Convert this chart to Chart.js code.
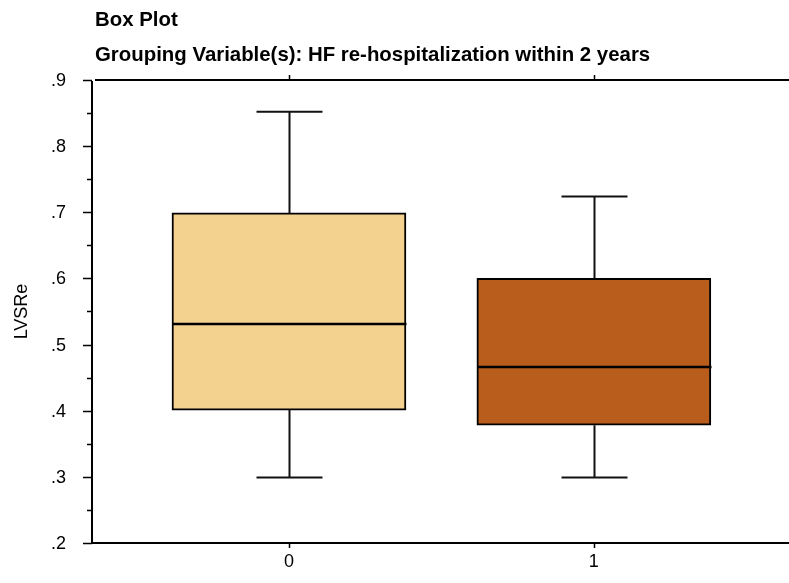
<!DOCTYPE html>
<html>
<head>
<meta charset="utf-8">
<script src="https://cdn.jsdelivr.net/npm/chart.js@4/dist/chart.umd.min.js"></script>
<style>
  html, body { margin: 0; padding: 0; background: #ffffff; }
  #wrap { width: 789px; height: 583px; position: relative; }
</style>
</head>
<body>
<div id="wrap"><canvas id="c" width="789" height="583"></canvas></div>
<script>
// ---- data ----
const categories = ['0', '1'];
const categoryPositions = [0, 1];
const whiskerLow = [0.299, 0.299];
const q1 = [0.401, 0.378];
const medians = [0.531, 0.466];
const q3 = [0.699, 0.600];
const whiskerHigh = [0.852, 0.724];
const boxColors = ['#F3D18E', '#B85D1B'];
const yMajorTicks = [0.2, 0.3, 0.4, 0.5, 0.6, 0.7, 0.8, 0.9];
const yMinorTicks = [0.25, 0.35, 0.45, 0.55, 0.65, 0.75, 0.85];
const titleText = 'Box Plot';
const subtitleText = 'Grouping Variable(s): HF re-hospitalization within 2 years';
const yAxisTitle = 'LVSRe';

const FONT = '"Liberation Sans", Arial, sans-serif';
const BOX_W = 234;
const CAP_W = 66;

const boxData = categoryPositions.map((x, i) => ({ x: x, y: [q1[i], q3[i]] }));

const boxPlotPlugin = {
  id: 'boxPlotExtras',
  afterDatasetsDraw(chart) {
    const ctx = chart.ctx;
    const xs = chart.scales.x, ys = chart.scales.y;
    const area = chart.chartArea;
    ctx.save();
    // whiskers and medians
    categoryPositions.forEach((c, i) => {
      const px = Math.round(xs.getPixelForValue(c)) + 0.5;
      const yLow = ys.getPixelForValue(whiskerLow[i]);
      const yQ1 = ys.getPixelForValue(q1[i]);
      const yQ3 = ys.getPixelForValue(q3[i]);
      const yHigh = ys.getPixelForValue(whiskerHigh[i]);
      const yMed = ys.getPixelForValue(medians[i]);
      ctx.strokeStyle = '#111';
      ctx.lineWidth = 2;
      ctx.beginPath();
      ctx.moveTo(px, yQ3); ctx.lineTo(px, yHigh);
      ctx.moveTo(px - CAP_W / 2, yHigh); ctx.lineTo(px + CAP_W / 2, yHigh);
      ctx.moveTo(px, yQ1); ctx.lineTo(px, yLow);
      ctx.moveTo(px - CAP_W / 2, yLow); ctx.lineTo(px + CAP_W / 2, yLow);
      ctx.stroke();
      ctx.strokeStyle = '#000';
      ctx.lineWidth = 2.5;
      ctx.beginPath();
      ctx.moveTo(px - BOX_W / 2, yMed); ctx.lineTo(px + BOX_W / 2, yMed);
      ctx.stroke();
    });
    // axes frame
    ctx.strokeStyle = '#000';
    ctx.lineWidth = 2;
    ctx.beginPath();
    ctx.moveTo(area.left, ys.getPixelForValue(0.9) + 1);
    ctx.lineTo(area.left, area.bottom + 1);
    ctx.moveTo(area.left, area.bottom);
    ctx.lineTo(chart.width, area.bottom);
    ctx.moveTo(area.left + 3, area.top);
    ctx.lineTo(chart.width, area.top);
    ctx.stroke();
    // y ticks
    ctx.lineWidth = 1.5;
    ctx.beginPath();
    yMajorTicks.forEach(v => {
      const py = Math.round(ys.getPixelForValue(v)) + 0.5;
      ctx.moveTo(area.left - 9, py); ctx.lineTo(area.left, py);
    });
    yMinorTicks.forEach(v => {
      const py = Math.round(ys.getPixelForValue(v)) + 0.5;
      ctx.moveTo(area.left - 5, py); ctx.lineTo(area.left, py);
    });
    categoryPositions.forEach(c => {
      const px = Math.round(xs.getPixelForValue(c)) + 0.5;
      ctx.moveTo(px, area.bottom); ctx.lineTo(px, area.bottom + 5);
      ctx.moveTo(px, area.top); ctx.lineTo(px, area.top - 5);
    });
    ctx.stroke();
    // titles
    ctx.fillStyle = '#000';
    ctx.textAlign = 'left';
    ctx.textBaseline = 'middle';
    ctx.font = 'bold 20.4px ' + FONT;
    ctx.fillText(titleText, area.left + 3, 20);
    ctx.fillText(subtitleText, area.left + 3, 55);
    ctx.restore();
  }
};

new Chart(document.getElementById('c'), {
  type: 'bar',
  data: {
    datasets: [{
      data: boxData,
      backgroundColor: boxColors,
      borderColor: '#000',
      borderWidth: 2,
      borderSkipped: false,
      barThickness: BOX_W
    }]
  },
  options: {
    responsive: false,
    animation: false,
    devicePixelRatio: 1,
    layout: { padding: { top: 80, right: 0, left: 0, bottom: 0 } },
    plugins: { legend: { display: false }, tooltip: { enabled: false }, title: { display: false } },
    scales: {
      x: {
        type: 'linear',
        min: -0.646,
        max: 1.64,
        offset: false,
        grid: { display: false, drawTicks: false },
        border: { display: false },
        afterBuildTicks: (s) => { s.ticks = categoryPositions.map(v => ({ value: v })); },
        afterFit: (s) => { s.height = 40; },
        ticks: {
          padding: 8,
          color: '#000',
          font: { family: FONT, size: 18 },
          callback: (v) => { const i = categoryPositions.indexOf(v); return i >= 0 ? categories[i] : ''; }
        }
      },
      y: {
        min: 0.2,
        max: 0.9,
        grid: { display: false, drawTicks: false },
        border: { display: false },
        afterBuildTicks: (s) => { s.ticks = yMajorTicks.map(v => ({ value: v })); },
        afterFit: (s) => { s.width = 92; },
        title: {
          display: true,
          text: yAxisTitle,
          color: '#000',
          font: { family: FONT, size: 18 },
          padding: { top: 11, bottom: 0 }
        },
        ticks: {
          padding: 26,
          labelOffset: 1,
          color: '#000',
          font: { family: FONT, size: 18 },
          callback: (v) => v.toFixed(1).replace(/^0/, '')
        }
      }
    }
  },
  plugins: [boxPlotPlugin]
});
</script>
</body>
</html>
